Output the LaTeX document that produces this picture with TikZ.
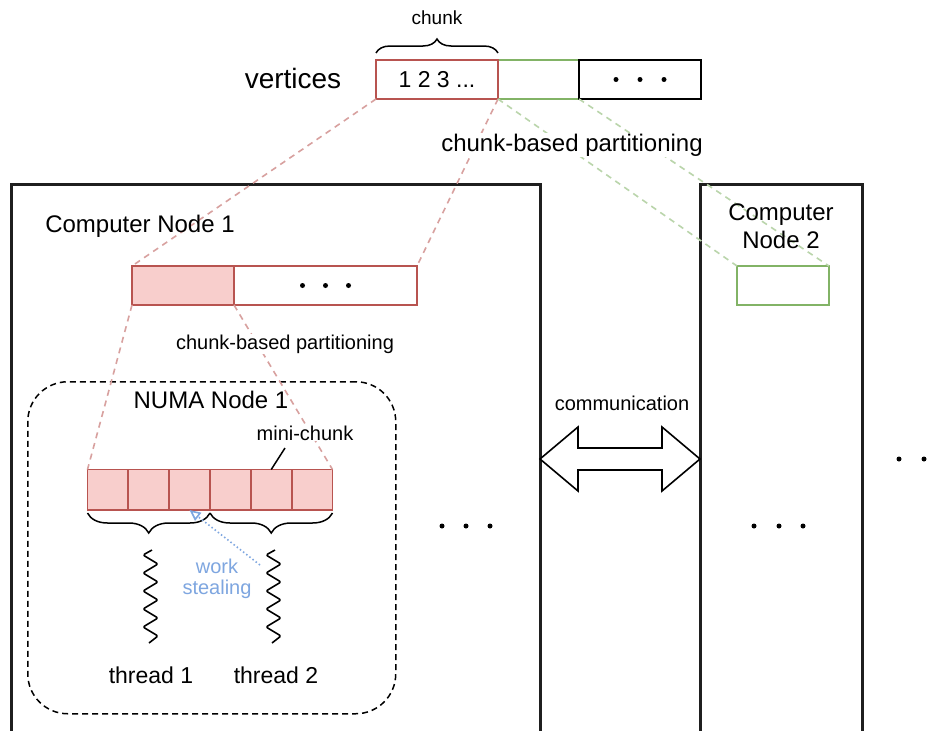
\documentclass[tikz,border=0pt]{standalone}
\usepackage{fontspec}
\setmainfont{Liberation Sans}
\usetikzlibrary{arrows.meta,decorations.pathreplacing}
\definecolor{rstroke}{HTML}{B85450}
\definecolor{rfill}{HTML}{F8CECC}
\definecolor{gstroke}{HTML}{82B366}
\definecolor{bluews}{HTML}{7EA6E0}
\begin{document}
\begin{tikzpicture}[x=1pt,y=-1pt,
  f28/.style={font=\fontsize{28}{32}\selectfont},
  f24/.style={font=\fontsize{24}{28}\selectfont},
  f23/.style={font=\fontsize{23}{27}\selectfont},
  f20/.style={font=\fontsize{20}{21}\selectfont},
  f19/.style={font=\fontsize{19}{22}\selectfont},
  cell/.style={draw=rstroke, line width=1.8pt, inner sep=0pt, outer sep=0pt, anchor=north west, minimum height=39pt},
  gcell/.style={cell, draw=gstroke},
  kcell/.style={cell, draw=black},
  mcell/.style={cell, fill=rfill, minimum width=40.83pt, minimum height=40.5pt},
  bigbox/.style={draw=black!88, line width=3pt, inner sep=0pt, outer sep=0pt, anchor=north west},
  pdash/.style={draw=rstroke!55, line width=1.6pt, dash pattern=on 6pt off 5pt},
  gdash/.style={draw=gstroke!55, line width=1.6pt, dash pattern=on 6pt off 5pt},
  bracestyle/.style={draw=black, line width=1.5pt, decorate},
  wave/.style={draw=black, line width=1.6pt, line join=round, rounded corners=1.5pt},
  dotmark/.style={fill=black},
  wlabel/.style={fill=white, inner sep=1pt}
]
\clip (0,0) rectangle (943,731);
\fill[white] (0,0) rectangle (943,731);

% computer node boxes
\node[bigbox, minimum width=529pt, minimum height=600pt] (cn1) at (11,184) {};
\node[bigbox, minimum width=162pt, minimum height=600pt] (cn2) at (700,184) {};

% top vertices array
\node[f28] (vert) at (293,78) {vertices};
\node[gcell, minimum width=81pt] (v2) at (498,60) {};
\node[cell, minimum width=122pt, f23] (v1) at (376,60) {1 2 3 ...};
\node[kcell, minimum width=122pt] (v3) at (579,60) {};
\foreach \dx in {-24,0,24} \fill[dotmark] ([xshift=\dx pt]v3.center) circle (2.5pt);

\draw[bracestyle, decoration={brace, amplitude=14pt}] ([yshift=7pt]v1.north west) -- ([yshift=7pt]v1.north east);
\node[f19] (chunklbl) at (437,18) {chunk};

% computer node 1 inner array
\node[cell, fill=rfill, minimum width=102pt] (c1) at (132,266) {};
\node[cell, minimum width=183pt] (c2) at (234,266) {};
\foreach \dx in {-23,0,23} \fill[dotmark] ([xshift=\dx pt]c2.center) circle (2.5pt);

% computer node 2 box
\node[gcell, minimum width=92pt] (g2) at (737,266) {};

% NUMA node
\node[draw=black, line width=1.5pt, dash pattern=on 6pt off 4pt, rounded corners=40pt, minimum width=368pt, minimum height=332pt, anchor=north west, inner sep=0pt] (numa) at (27,381) {};

% mini-chunks
\foreach \i in {1,...,6} {
  \node[mcell] (m\i) at ({87.5+40.83*(\i-1)},469.5) {};
}

% dashed partition lines
\draw[pdash] (v1.south west) -- (c1.north west);
\draw[pdash] (v1.south east) -- (c2.north east);
\draw[gdash] (v2.south west) -- (g2.north west);
\draw[gdash] (v2.south east) -- (g2.north east);
\draw[pdash] (c1.south west) -- (m1.north west);
\draw[pdash] (c1.south east) -- (m6.north east);

% labels
\node[f24] (cn1lbl) at (140,226) {Computer Node 1};
\node[f24, align=center] (cn2lbl) at (781,226) {Computer\\Node 2};
\node[f24, wlabel] (part1) at (572,145) {chunk-based partitioning};
\node[f20, wlabel] (part2) at (285,344) {chunk-based partitioning};
\node[f24] (numalbl) at (211,400) {NUMA Node 1};
\node[f20, wlabel] (mlbl) at (305,433) {mini-chunk};
\coordinate (mk) at (285,448);
\draw[line width=1.5pt] (mk) -- (m5.north);

% braces under mini-chunks
\draw[bracestyle, decoration={brace, amplitude=20pt}] ([yshift=-3pt]m3.south east) -- ([yshift=-3pt]m1.south west);
\draw[bracestyle, decoration={brace, amplitude=20pt}] ([yshift=-3pt]m6.south east) -- ([yshift=-3pt]m4.south west);

% thread waves
\draw[wave] (152,550) \foreach \k in {0,...,4} { -- (143,{555+18*\k}) -- (158,{564+18*\k}) } -- (149,643);
\draw[wave] (275,550) \foreach \k in {0,...,4} { -- (266,{555+18*\k}) -- (281,{564+18*\k}) } -- (272,643);
\node[f23] (t1) at (151,675) {thread 1};
\node[f23] (t2) at (276,675) {thread 2};

% work stealing
\node[f20, text=bluews, align=center] (ws) at (217,579) {work\\stealing};
\coordinate (wsstart) at (260,565);
\draw[draw=bluews, line width=1.6pt, dash pattern=on 1.5pt off 2.5pt, -{Triangle[open, length=11pt, width=10pt]}] (wsstart) -- (m3.south);

% communication
\node[f20] (comm) at (622,403) {communication};
\draw[draw=black, line width=1.6pt, fill=white, line join=miter]
  (cn1.east |- 0,459) -- (578,427) -- (578,448) -- (662,448) -- (662,427) -- (cn2.west |- 0,459)
  -- (662,491) -- (662,470) -- (578,470) -- (578,491) -- cycle;

% ellipsis dots
\foreach \x in {442,466,490} \fill[dotmark] (\x,526) circle (2.5pt);
\foreach \x in {754,779,803} \fill[dotmark] (\x,526) circle (2.5pt);
\foreach \x in {899,924,949} \fill[dotmark] (\x,459) circle (2.5pt);
\end{tikzpicture}
\end{document}
